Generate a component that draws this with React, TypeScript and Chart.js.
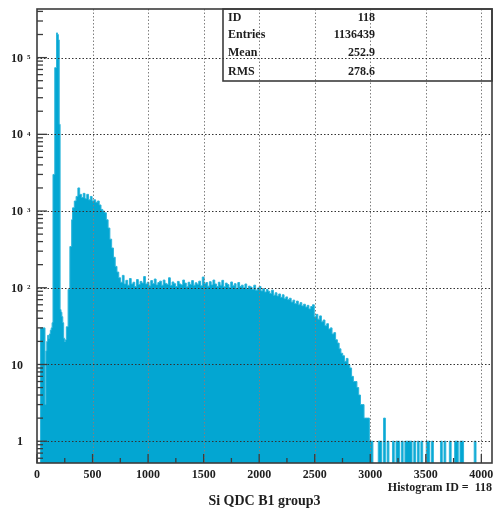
import React, { useEffect, useRef } from 'react';
import { Chart, registerables } from 'chart.js';

Chart.register(...registerables);

// ---------- DATA ----------
// fine binning (width 8) from 0 to 320
const fineStart = 0;
const fineWidth = 8;
const fineCounts = [
  0, 0, 0, 0, 30, 30, 30, 30, 30, 3,
  15, 20, 24, 22, 25, 28, 30, 35, 3000, 3000,
  74000, 74000, 210000, 200000, 170000, 13500, 52, 48, 42, 35,
  22, 20, 21, 31, 31, 95, 95, 345, 345, 770,
];

// coarse binning (width 16) from 320 to 4096
const coarseStart = 320;
const coarseWidth = 16;
const bumpCounts = [
  1100, 1350, 1550, 2000, 1650, 1500, 1700, 1450, 1650, 1400,
  1550, 1350, 1400, 1300, 1350, 1200, 1050, 1000, 950, 770,
  600, 430, 330, 250, 190, 160, 135, 118, 145, 112,
];
const plateauCounts = [
  125, 108, 132, 112, 118, 104, 128, 110, 121, 115,
  140, 112, 118, 106, 124, 113, 130, 109, 117, 122,
  108, 126, 114, 111, 135, 107, 119, 113, 104, 121,
  112, 109, 126, 115, 103, 118, 110, 124, 108, 116,
  111, 122, 106, 138, 113, 117, 105, 120, 109, 126,
  112, 104, 118, 108, 125, 103, 115, 110, 101, 119,
  106, 113, 98, 117, 104, 108, 100, 112, 97, 105,
];
const falloffCounts = [
  102, 96, 108, 93, 99, 104, 91, 97, 88, 95,
  90, 84, 93, 80, 86, 78, 83, 75, 81, 72,
  76, 70, 73, 65, 69, 62, 67, 60, 64, 58,
  61, 56, 59, 53, 57, 60, 42, 45, 39, 43,
  36, 38, 32, 34, 29, 30, 25, 26, 21, 19,
  16, 14, 13, 11, 12, 10, 9, 7, 6, 6,
  5, 4, 3, 3, 2, 2, 2, 1, 1, 0,
];
const tailCounts = [
  0, 0, 1, 1, 0, 2, 0, 1, 0, 0,
  1, 0, 1, 1, 0, 1, 0, 1, 1, 1,
  1, 0, 1, 0, 1, 0, 1, 0, 0, 1,
  1, 0, 1, 0, 0, 0, 0, 1, 0, 1,
  0, 0, 1, 0, 0, 1, 1, 0, 1, 1,
  0, 0, 0, 0, 0, 0, 1, 0, 0, 0,
  0, 0, 0, 0, 0, 0,
];

const xMin = 0;
const xMax = 4096;
const yMin = 0.52;
const yMax = 430000;
// empty bins are shown at this floor (below the visible log range)
const yFloor = 0.1;

const xTickStep = 250;
const xLabelStep = 500;
const yDecadeLabels = [
  { value: 1, base: '1', exp: '' },
  { value: 10, base: '10', exp: '' },
  { value: 100, base: '10', exp: '2' },
  { value: 1000, base: '10', exp: '3' },
  { value: 10000, base: '10', exp: '4' },
  { value: 100000, base: '10', exp: '5' },
];
const yMantissas = [1, 2, 3, 4, 5, 6, 7, 8, 9];
const yDecades = [0.1, 1, 10, 100, 1000, 10000, 100000];

const statLabels = ['ID', 'Entries', 'Mean', 'RMS'];
const statValues = ['118', '1136439', '252.9', '278.6'];

const xTitle = 'Si QDC B1 group3';
const histLabel = 'Histogram ID =  118';

// ---------- BUILD ----------
function buildPoints() {
  const pts: { x: number; y: number }[] = [];
  const show = (c: number) => (c > 0 ? c : yFloor);
  fineCounts.forEach((c, i) => pts.push({ x: fineStart + i * fineWidth, y: show(c) }));
  const coarse = [...bumpCounts, ...plateauCounts, ...falloffCounts, ...tailCounts];
  coarse.forEach((c, i) => pts.push({ x: coarseStart + i * coarseWidth, y: show(c) }));
  pts.push({ x: coarseStart + coarse.length * coarseWidth, y: yFloor });
  return pts;
}

const FONT = '"Liberation Serif", "Times New Roman", serif';
const isDecade = (v: number) => Math.abs(Math.log10(v) - Math.round(Math.log10(v))) < 1e-9;

const overlay = {
  id: 'pawOverlay',
  afterDatasetsDraw(chart: any) {
    const { ctx, chartArea: a, scales } = chart;
    const xs = scales.x;
    const ys = scales.y;
    ctx.save();

    // grid lines (dotted, over the histogram)
    ctx.lineWidth = 1;
    ctx.setLineDash([1.5, 2]);
    ctx.strokeStyle = '#808080';
    xs.ticks.forEach((t: any) => {
      if (t.value > 0 && t.value % xLabelStep === 0) {
        const px = Math.round(xs.getPixelForValue(t.value)) + 0.5;
        ctx.beginPath();
        ctx.moveTo(px, a.top);
        ctx.lineTo(px, a.bottom);
        ctx.stroke();
      }
    });
    ctx.strokeStyle = '#333333';
    ys.ticks.forEach((t: any) => {
      if (isDecade(t.value)) {
        const py = Math.round(ys.getPixelForValue(t.value)) + 0.5;
        ctx.beginPath();
        ctx.moveTo(a.left, py);
        ctx.lineTo(a.right, py);
        ctx.stroke();
      }
    });
    ctx.setLineDash([]);

    // frame
    ctx.strokeStyle = '#3c3c3c';
    ctx.lineWidth = 1.6;
    ctx.strokeRect(a.left, a.top, a.right - a.left, a.bottom - a.top);

    // tick marks (inside)
    ctx.lineWidth = 1.3;
    xs.ticks.forEach((t: any) => {
      const px = xs.getPixelForValue(t.value);
      const len = t.value % xLabelStep === 0 ? 9 : 5;
      ctx.beginPath();
      ctx.moveTo(px, a.bottom);
      ctx.lineTo(px, a.bottom - len);
      ctx.stroke();
    });
    ys.ticks.forEach((t: any) => {
      const py = ys.getPixelForValue(t.value);
      const len = isDecade(t.value) ? 10 : 6;
      ctx.beginPath();
      ctx.moveTo(a.left, py);
      ctx.lineTo(a.left + len, py);
      ctx.stroke();
    });

    // x labels
    ctx.fillStyle = '#1e1e1e';
    ctx.font = `bold 12px ${FONT}`;
    ctx.textAlign = 'center';
    ctx.textBaseline = 'middle';
    xs.ticks.forEach((t: any) => {
      if (t.value % xLabelStep === 0) {
        ctx.fillText(String(t.value), xs.getPixelForValue(t.value), a.bottom + 12);
      }
    });

    // y labels
    yDecadeLabels.forEach((d) => {
      const py = ys.getPixelForValue(d.value);
      ctx.font = `bold 12px ${FONT}`;
      ctx.textAlign = 'right';
      ctx.textBaseline = 'middle';
      ctx.fillText(d.base, a.left - 14, py + 1);
      if (d.exp) {
        ctx.font = `bold 7px ${FONT}`;
        ctx.textAlign = 'left';
        ctx.textBaseline = 'top';
        ctx.fillText(d.exp, a.left - 10, py - 4);
      }
    });

    // stats box
    const bx = 223;
    const by = a.top;
    const bw = a.right - bx;
    const bh = 81 - a.top;
    ctx.strokeStyle = '#3c3c3c';
    ctx.lineWidth = 1.6;
    ctx.strokeRect(bx, by, bw, bh);
    ctx.font = `bold 12px ${FONT}`;
    ctx.textBaseline = 'middle';
    const rowYs = [18, 35, 53, 72];
    statLabels.forEach((l, i) => {
      ctx.textAlign = 'left';
      ctx.fillText(l, 228, rowYs[i]);
      ctx.textAlign = 'right';
      ctx.fillText(statValues[i], 375, rowYs[i]);
    });

    // bottom texts
    ctx.textAlign = 'right';
    ctx.font = `bold 12px ${FONT}`;
    ctx.fillText(histLabel, a.right, 488);
    ctx.textAlign = 'center';
    ctx.font = `bold 14px ${FONT}`;
    ctx.fillText(xTitle, (a.left + a.right) / 2, 501);

    ctx.restore();
  },
};

export default function App() {
  const ref = useRef<HTMLCanvasElement | null>(null);
  useEffect(() => {
    if (!ref.current) return;
    const chart = new Chart(ref.current, {
      type: 'line',
      data: {
        datasets: [
          {
            data: buildPoints(),
            stepped: true,
            fill: 'start',
            backgroundColor: '#03A6D2',
            borderColor: '#2CB5DB',
            borderWidth: 1,
            pointRadius: 0,
            tension: 0,
          },
        ],
      },
      options: {
        responsive: false,
        animation: false,
        layout: { padding: { top: 9, right: 7, left: 0, bottom: 0 } },
        plugins: { legend: { display: false }, tooltip: { enabled: false } },
        scales: {
          x: {
            type: 'linear',
            min: xMin,
            max: xMax,
            ticks: { stepSize: xTickStep, includeBounds: false, display: false },
            grid: { display: false },
            border: { display: false },
            afterFit: (s: any) => {
              s.height = 53;
            },
          },
          y: {
            type: 'logarithmic',
            min: yMin,
            max: yMax,
            ticks: { display: false },
            grid: { display: false },
            border: { display: false },
            afterFit: (s: any) => {
              s.width = 37;
            },
            afterBuildTicks: (s: any) => {
              const t: { value: number }[] = [];
              yDecades.forEach((d) =>
                yMantissas.forEach((m) => {
                  const v = m * d;
                  if (v >= yMin && v <= yMax) t.push({ value: v });
                })
              );
              s.ticks = t;
            },
          },
        },
      },
      plugins: [overlay],
    } as any);
    return () => chart.destroy();
  }, []);
  return (
    <div style={{ position: 'fixed', left: 0, top: 0, width: 499, height: 516, background: '#fff' }}>
      <canvas ref={ref} width={499} height={516} style={{ width: 499, height: 516, display: 'block' }} />
    </div>
  );
}
